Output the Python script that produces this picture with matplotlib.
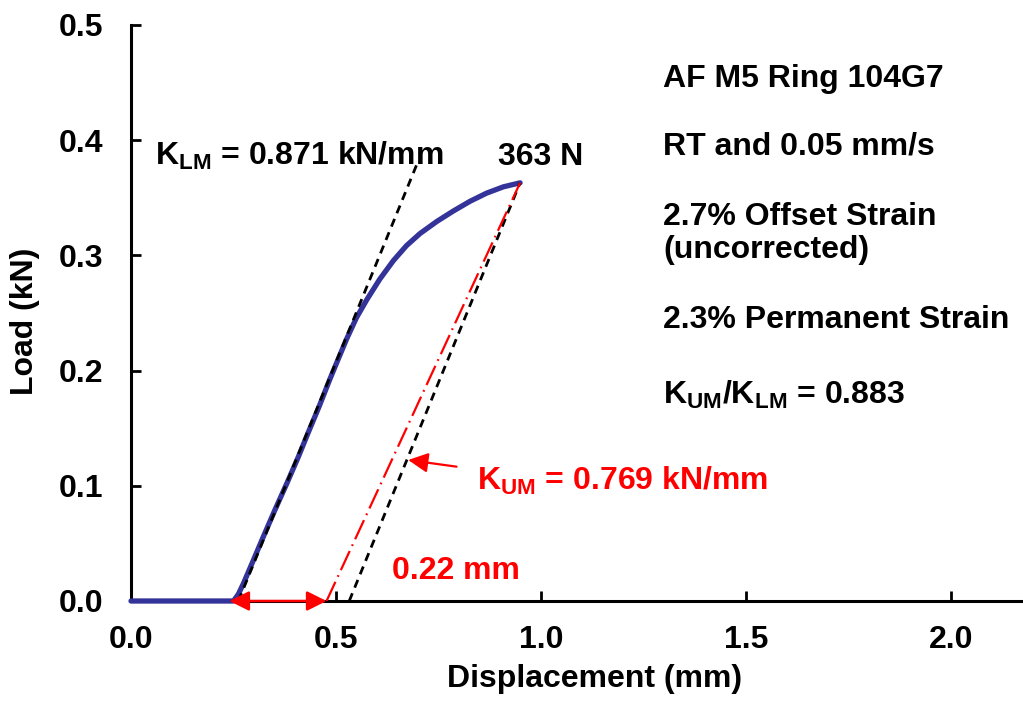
import matplotlib
matplotlib.use("Agg")
import matplotlib.pyplot as plt
from matplotlib.patches import FancyArrowPatch
from matplotlib.ticker import FormatStrFormatter

plt.rcParams['font.family'] = ['Liberation Sans', 'DejaVu Sans']
plt.rcParams['font.weight'] = 'bold'
plt.rcParams['mathtext.fontset'] = 'custom'
plt.rcParams['mathtext.rm'] = 'Liberation Sans:bold'
plt.rcParams['mathtext.it'] = 'Liberation Sans:bold'
plt.rcParams['mathtext.bf'] = 'Liberation Sans:bold'
plt.rcParams['mathtext.default'] = 'bf'

# Load-displacement record of the ring test (mm, kN)
displacement = [0.0, 0.250, 0.262, 0.274, 0.298, 0.323, 0.351, 0.380, 0.408,
                0.432, 0.459, 0.485, 0.506, 0.526, 0.550, 0.575, 0.607,
                0.640, 0.672, 0.705, 0.746, 0.786, 0.827, 0.867, 0.908, 0.949]
load = [0.0, 0.0, 0.006, 0.015, 0.035, 0.056, 0.079, 0.102, 0.125,
        0.146, 0.169, 0.1925, 0.2105, 0.2275, 0.246, 0.2615, 0.2795,
        0.2955, 0.3085, 0.3190, 0.3295, 0.3385, 0.3470, 0.3540, 0.3595, 0.363]

k_lm = 0.871          # loading modulus, kN/mm
k_um = 0.769          # unloading modulus, kN/mm
x_lm0 = 0.262         # intercept of the fitted loading line, mm
x_toe = 0.250         # start of loading, mm
peak_x = 0.949        # displacement at peak, mm
peak_load = 0.363     # peak load, kN
lm_top = 0.381        # upper end of drawn loading line, kN

x_ticks = [0.0, 0.5, 1.0, 1.5, 2.0]
y_ticks = [0.0, 0.1, 0.2, 0.3, 0.4, 0.5]

fig = plt.figure(figsize=(10.23, 7.05), dpi=100)
ax = fig.add_axes([0.12805, 0.14752, 0.9018, 0.81702])

fs = 23
blue = '#333399'
red = '#FF0000'
dash = (0, (3, 2.2))

# measured curve
ax.plot(displacement, load, color=blue, lw=3.8, solid_capstyle='round',
        solid_joinstyle='round', zorder=3, clip_on=False)

# fitted loading line
ax.plot([x_lm0, x_lm0 + lm_top / k_lm], [0.0, lm_top], color='black',
        lw=2.0, linestyle=dash, zorder=4)
# loading slope shifted through the peak
off_x0 = peak_x - peak_load / k_lm
ax.plot([off_x0, peak_x], [0.0, peak_load], color='black',
        lw=2.0, linestyle=dash, zorder=4)
# unloading slope through the peak
um_x0 = peak_x - peak_load / k_um
ax.plot([um_x0, peak_x], [0.0, peak_load], color=red,
        lw=1.6, linestyle=(0, (9.5, 2.5, 0.8, 2.5)), zorder=5)

# permanent set arrow along the axis
arr = FancyArrowPatch((x_toe - 0.010, 0.0), (um_x0, 0.0),
                      arrowstyle='<|-|>,head_length=0.6,head_width=0.3',
                      mutation_scale=20, color=red, lw=1.8,
                      shrinkA=0, shrinkB=0, zorder=6, clip_on=False)
ax.add_patch(arr)

# pointer to the unloading line
ax.annotate('', xy=(0.676, 0.1224), xytext=(0.794, 0.1166),
            arrowprops=dict(arrowstyle='-|>,head_length=0.6,head_width=0.3',
                            mutation_scale=20, color=red, lw=1.6,
                            shrinkA=0, shrinkB=0), zorder=6)

# annotations
ax.text(0.059, 0.3785, r'K$_{LM}$ = 0.871 kN/mm', fontsize=fs,
        ha='left', va='baseline', color='black')
ax.text(0.895, 0.3785, '363 N', fontsize=fs, ha='left', va='baseline',
        color='black')
ax.text(0.845, 0.0964, r'K$_{UM}$ = 0.769 kN/mm', fontsize=fs,
        ha='left', va='baseline', color=red)
ax.text(0.636, 0.0191, '0.22 mm', fontsize=fs, ha='left', va='baseline',
        color=red)

info_x = 1.298
ax.text(info_x, 0.4464, 'AF M5 Ring 104G7', fontsize=fs, va='baseline')
ax.text(info_x, 0.3880, 'RT and 0.05 mm/s', fontsize=fs, va='baseline')
ax.text(info_x, 0.3264, '2.7% Offset Strain', fontsize=fs, va='baseline')
ax.text(info_x, 0.2978, '(uncorrected)', fontsize=fs, va='baseline')
ax.text(info_x, 0.2370, '2.3% Permanent Strain', fontsize=fs, va='baseline')
ax.text(info_x, 0.1710, r'K$_{UM}$/K$_{LM}$ = 0.883', fontsize=fs,
        va='baseline')

# axes styling
ax.set_xlim(0, 2.25)
ax.set_ylim(0, 0.5)
ax.set_xticks(x_ticks)
ax.set_yticks(y_ticks)
ax.xaxis.set_major_formatter(FormatStrFormatter('%.1f'))
ax.yaxis.set_major_formatter(FormatStrFormatter('%.1f'))
ax.spines['top'].set_visible(False)
ax.spines['right'].set_visible(False)
for s in ('left', 'bottom'):
    ax.spines[s].set_linewidth(2.2)
ax.tick_params(axis='both', direction='in', length=7, width=2,
               labelsize=fs)
ax.tick_params(axis='y', pad=20)
ax.tick_params(axis='x', pad=17)
for lab in ax.get_xticklabels() + ax.get_yticklabels():
    lab.set_fontweight('bold')

ax.set_xlabel('Displacement (mm)', fontsize=fs, fontweight='bold')
ax.set_ylabel('Load (kN)', fontsize=fs, fontweight='bold')
ax.xaxis.set_label_coords(0.502, -0.11)
ax.yaxis.set_label_coords(-0.099, 0.485)

fig.savefig('out.png', dpi=100)
